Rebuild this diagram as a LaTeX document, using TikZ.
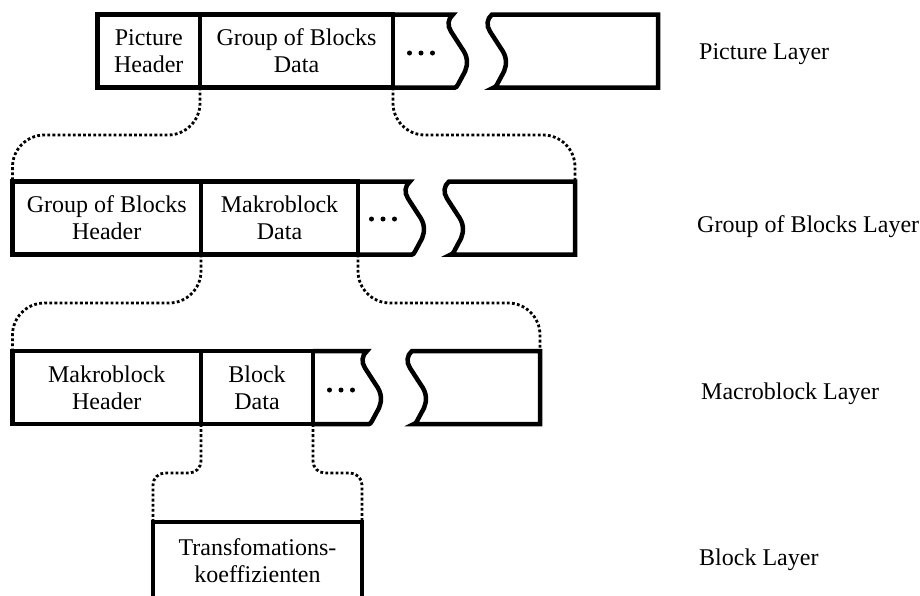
\documentclass[tikz,border=0pt]{standalone}
\usepackage{fontspec}
\setmainfont{Liberation Serif}
\begin{document}
\begin{tikzpicture}[x=1pt,y=-1pt,
  cell/.style={draw, line width=4.5pt, inner sep=0pt, outer sep=0pt, anchor=north west,
    align=center, minimum height=73pt, font=\fontsize{24}{27}\selectfont},
  outline/.style={line width=4.5pt, line join=miter},
  link/.style={line width=2.8pt, dash pattern=on 2.8pt off 2.3pt},
  layer/.style={anchor=base west, inner sep=0pt, font=\fontsize{24}{27}\selectfont},
  % torn edge of a stream segment, from its top point (#1,#2) down to the bottom
  waveedge/.style 2 args={insert path={
    .. controls (#1-5,#2+4) and (#1-6,#2+11) .. (#1-2,#2+17)
    -- (#1+9,#2+34)
    .. controls (#1+15,#2+42) and (#1+15,#2+50) .. (#1+12,#2+57)
    -- (#1+5,#2+70)
    .. controls (#1+4,#2+72) and (#1+3,#2+73) .. (#1+2,#2+73)}},
  dot/.style={circle, fill, inner sep=0pt, minimum size=5pt}
]
\useasboundingbox (0,0) rectangle (920,595);

% ---- Picture layer ----
\node[cell, minimum width=102.5pt] (ph) at (97.5,14.5) {Picture\\Header};
\node[cell, minimum width=193pt] (pd) at (200,14.5) {Group of Blocks\\Data};
\draw[outline] (pd.north east) -- (453,14.5) [waveedge={453}{14.5}] -- (pd.south east);
\foreach \dx [count=\i] in {-11.5,0,11.5} \node[dot] (pdot\i) at (421+\dx,53) {};
\coordinate (ptail) at (658,14.5);
\draw[outline] (492,14.5) [waveedge={492}{14.5}] -- (ptail |- pd.south) -- (ptail) -- cycle;

% ---- Group of Blocks layer ----
\node[cell, minimum width=188.5pt] (gh) at (12.5,181.5) {Group of Blocks\\Header};
\node[cell, minimum width=157pt] (gd) at (201,181.5) {Makroblock\\Data};
\draw[outline] (gd.north east) -- (410,181.5) [waveedge={410}{181.5}] -- (gd.south east);
\foreach \dx [count=\i] in {-11.5,0,11.5} \node[dot] (gdot\i) at (383+\dx,219) {};
\coordinate (gtail) at (575,181.5);
\draw[outline] (449,181.5) [waveedge={449}{181.5}] -- (gtail |- gd.south) -- (gtail) -- cycle;

% ---- Macroblock layer ----
\node[cell, minimum width=188.5pt] (mh) at (12.5,351) {Makroblock\\Header};
\node[cell, minimum width=112pt] (md) at (201,351) {Block\\Data};
\draw[outline] (md.north east) -- (367,351) [waveedge={367}{351}] -- (md.south east);
\foreach \dx [count=\i] in {-11.5,0,11.5} \node[dot] (mdot\i) at (341+\dx,390) {};
\coordinate (mtail) at (540,351);
\draw[outline] (412,351) [waveedge={412}{351}] -- (mtail |- md.south) -- (mtail) -- cycle;

% ---- Block layer ----
\node[cell, minimum width=209pt, minimum height=78pt] (blk) at (153,522) {Transfomations-\\koeffizienten};

% ---- expansion brackets between the layers ----
\draw[link, rounded corners=32pt] (pd.south west) -- (200,135) -- (12.5,135) -- (gh.north west);
\draw[link, rounded corners=32pt] (pd.south east) -- (393,135) -- (575,135) -- (gtail);
\draw[link, rounded corners=32pt] (gd.south west) -- (201,303) -- (12.5,303) -- (mh.north west);
\draw[link, rounded corners=32pt] (gd.south east) -- (358,303) -- (540,303) -- (mtail);
\draw[link, rounded corners=12pt] (md.south west) -- (201,473) -- (153,473) -- (blk.north west);
\draw[link, rounded corners=12pt] (md.south east) -- (313,473) -- (362,473) -- (blk.north east);

% ---- layer names ----
\node[layer] (lp) at (699,59) {Picture Layer};
\node[layer] (lg) at (697,232) {Group of Blocks Layer};
\node[layer] (lm) at (701,399) {Macroblock Layer};
\node[layer] (lb) at (699,565) {Block Layer};
\end{tikzpicture}
\end{document}
